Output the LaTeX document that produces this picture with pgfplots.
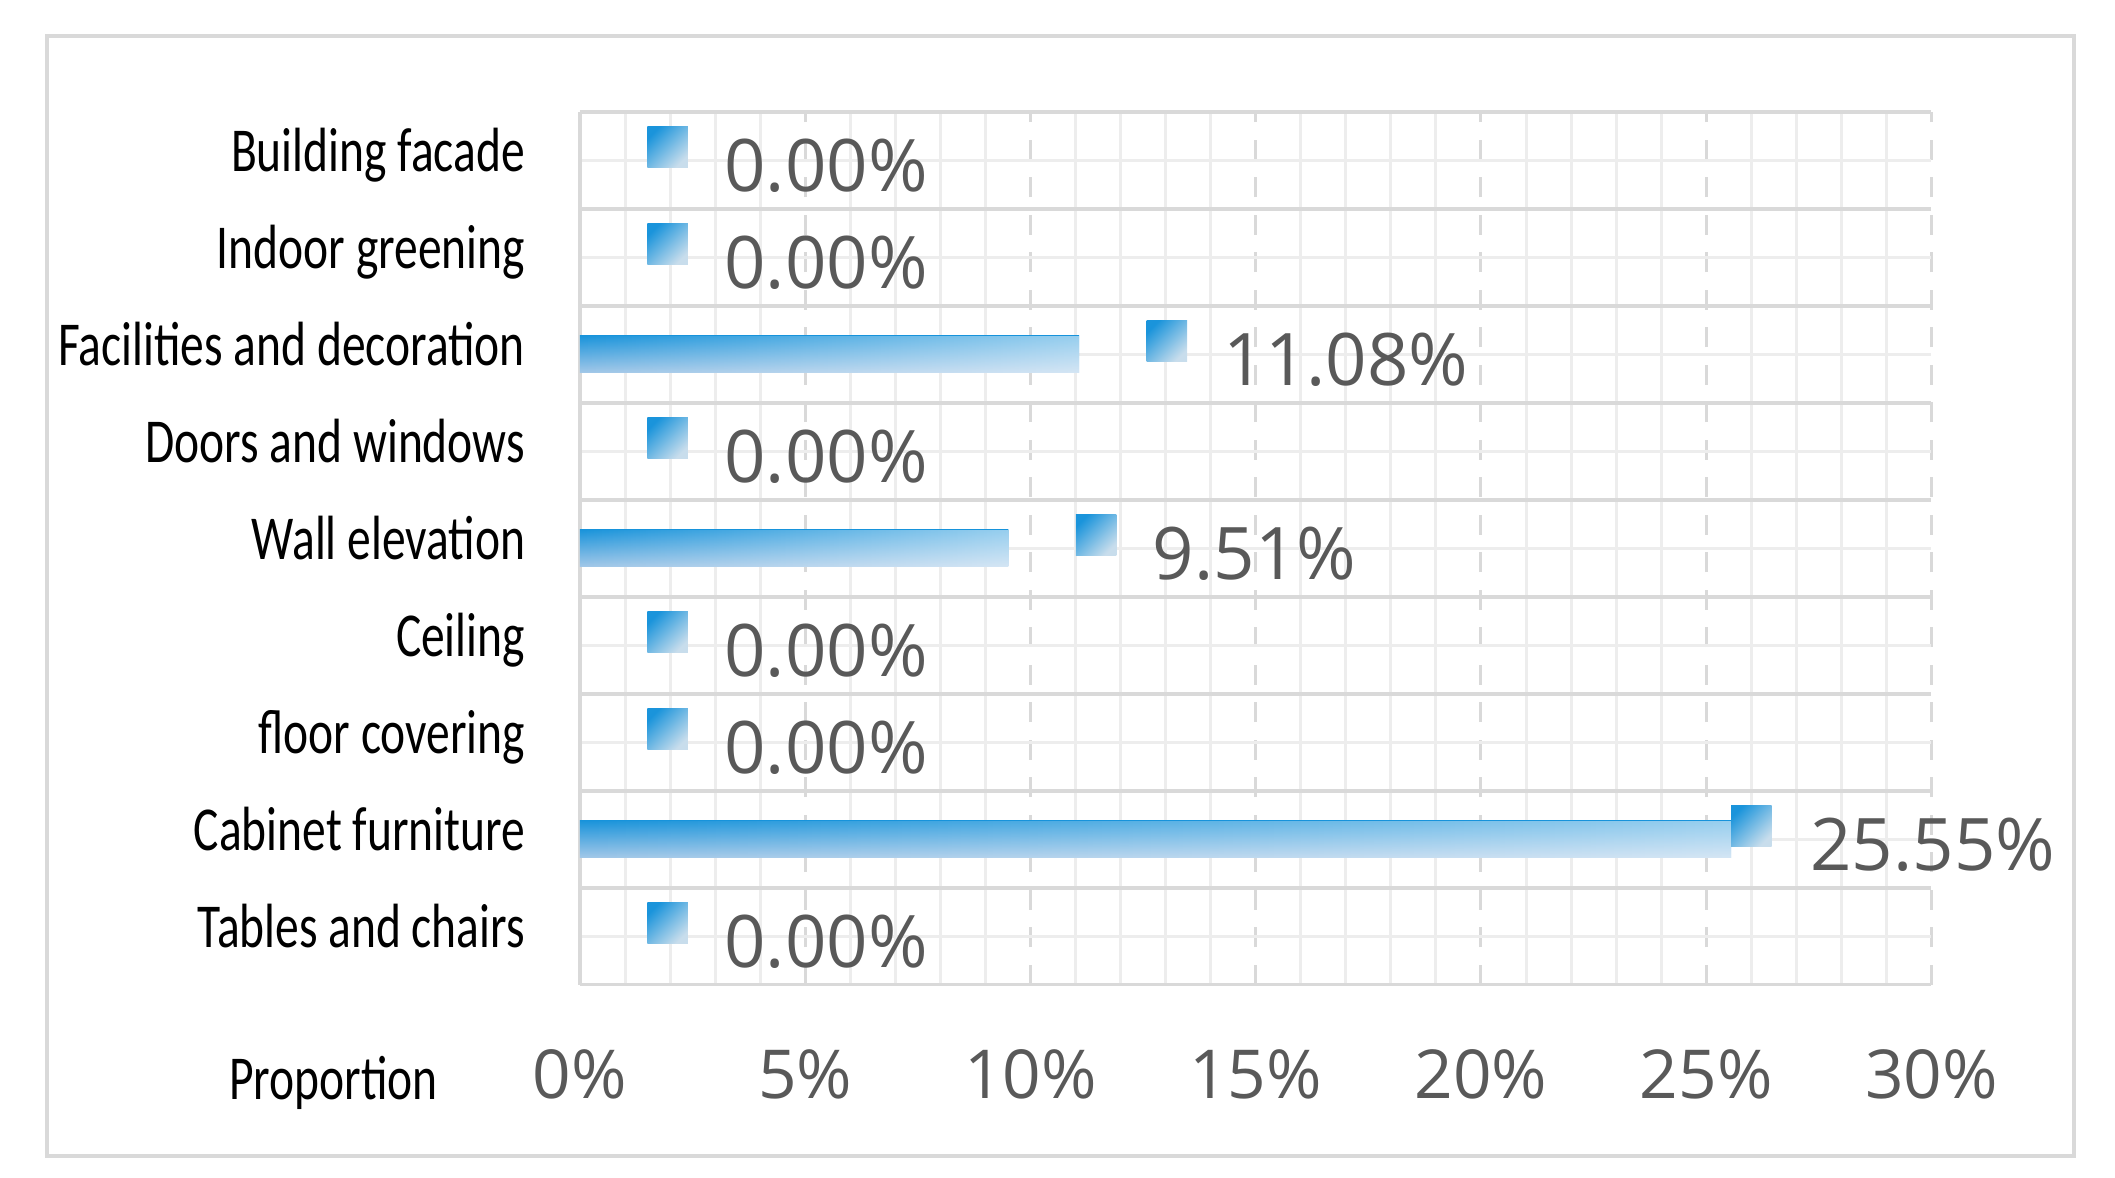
\documentclass[border=0pt]{standalone}
\usepackage{fontspec}
\setmainfont{Open Sans}
\newfontfamily\catfont[FakeStretch=0.76]{Carlito}
\usepackage{pgfplots}
\pgfplotsset{compat=1.18}
\usetikzlibrary{fadings}

\definecolor{bardark}{HTML}{1A94DB}
\definecolor{barbottom}{HTML}{A3C8E8}
\definecolor{sqlight}{HTML}{C8DDEC}
\definecolor{gridmajor}{HTML}{D9D9D9}
\definecolor{gridminor}{HTML}{EDEDED}
\definecolor{labelgray}{HTML}{595959}

\tikzfading[name=faderight, left color=transparent!100, right color=transparent!0]

% small shaded square, sits to the right of the bar end
\pgfdeclareplotmark{gsq}{%
  \path[draw=none, top color=bardark, bottom color=sqlight, shading angle=45]
    (13.5pt,-1.35pt) rectangle (21.6pt,6.75pt);}
% same square, right at the bar end (cabinet row)
\pgfdeclareplotmark{gsqnear}{%
  \path[draw=none, top color=bardark, bottom color=sqlight, shading angle=45]
    (0pt,-1.35pt) rectangle (8.1pt,6.75pt);}

% one \addplot per bar so that each shading fits its own bar
\pgfplotsset{
  gbar/.style={xbar, bar width=7.4pt, draw=none, top color=bardark, bottom color=barbottom},
  gwash/.style={xbar, bar width=7.4pt, draw=none, fill=white, fill opacity=0.55, path fading=faderight},
}

\begin{document}
\begin{tikzpicture}
\path[use as bounding box] (-116pt,-38.6pt) rectangle (307pt,196.95pt);
\draw[gridmajor, line width=0.8pt] (-106.6pt,-34.3pt) rectangle (298.7pt,189.7pt);
\begin{axis}[
  scale only axis,
  width=270.3pt, height=174.6pt,
  xmin=0, xmax=30, ymin=-0.5, ymax=8.5,
  xtick={0,5,...,30},
  xticklabels={0\%,5\%,10\%,15\%,20\%,25\%,30\%},
  minor x tick num=4,
  ytick={0,...,8},
  minor ytick={0,...,8},
  yticklabels={Tables and chairs,Cabinet furniture,floor covering,Ceiling,Wall elevation,Doors and windows,Facilities and decoration,Indoor greening,Building facade},
  extra y ticks={-0.5,0.5,...,8.5},
  extra y tick labels={},
  extra y tick style={ymajorgrids=true, major grid style={solid, gridmajor, line width=0.7pt}},
  xmajorgrids, xminorgrids, yminorgrids,
  major grid style={gridmajor, line width=0.6pt, dash pattern=on 4pt off 3.5pt},
  minor grid style={gridminor, line width=0.6pt},
  axis line style={draw=none},
  major tick length=0pt, minor tick length=0pt,
  tick style={draw=none},
  xticklabel style={font=\fontsize{13.5}{15}\selectfont, text=labelgray, anchor=base, inner sep=0pt, yshift=-22.8pt},
  yticklabel style={font=\catfont\fontsize{12.5}{14}\selectfont, text=black, anchor=base east, inner sep=0pt, xshift=-10.8pt, yshift=-2.3pt},
  xlabel={\catfont\fontsize{12.5}{14}\selectfont Proportion},
  xlabel style={at={(rel axis cs:0,0)}, anchor=base east, inner sep=0pt, xshift=-28.3pt, yshift=-22.9pt},
  clip=false,
]
\draw[gridmajor, line width=0.7pt] (rel axis cs:0,0) -- (rel axis cs:0,1);

\addplot[gbar] coordinates {(25.55,1)};
\addplot[gwash] coordinates {(25.55,1)};
\addplot[gbar] coordinates {(9.51,4)};
\addplot[gwash] coordinates {(9.51,4)};
\addplot[gbar] coordinates {(11.08,6)};
\addplot[gwash] coordinates {(11.08,6)};

\addplot[only marks, mark=gsq, point meta=explicit symbolic,
  nodes near coords,
  nodes near coords style={anchor=base west, inner sep=0pt, xshift=28.7pt, yshift=-6.3pt,
    font=\fontsize{14.5}{16}\selectfont, text=labelgray}]
  coordinates {
    (0,0) [0.00\%]
    (0,2) [0.00\%]
    (0,3) [0.00\%]
    (9.51,4) [9.51\%]
    (0,5) [0.00\%]
    (11.08,6) [11.08\%]
    (0,7) [0.00\%]
    (0,8) [0.00\%]
  };
\addplot[only marks, mark=gsqnear, point meta=explicit symbolic,
  nodes near coords,
  nodes near coords style={anchor=base west, inner sep=0pt, xshift=15.7pt, yshift=-6.3pt,
    font=\fontsize{14.5}{16}\selectfont, text=labelgray}]
  coordinates {(25.55,1) [25.55\%]};
\end{axis}
\end{tikzpicture}
\end{document}
